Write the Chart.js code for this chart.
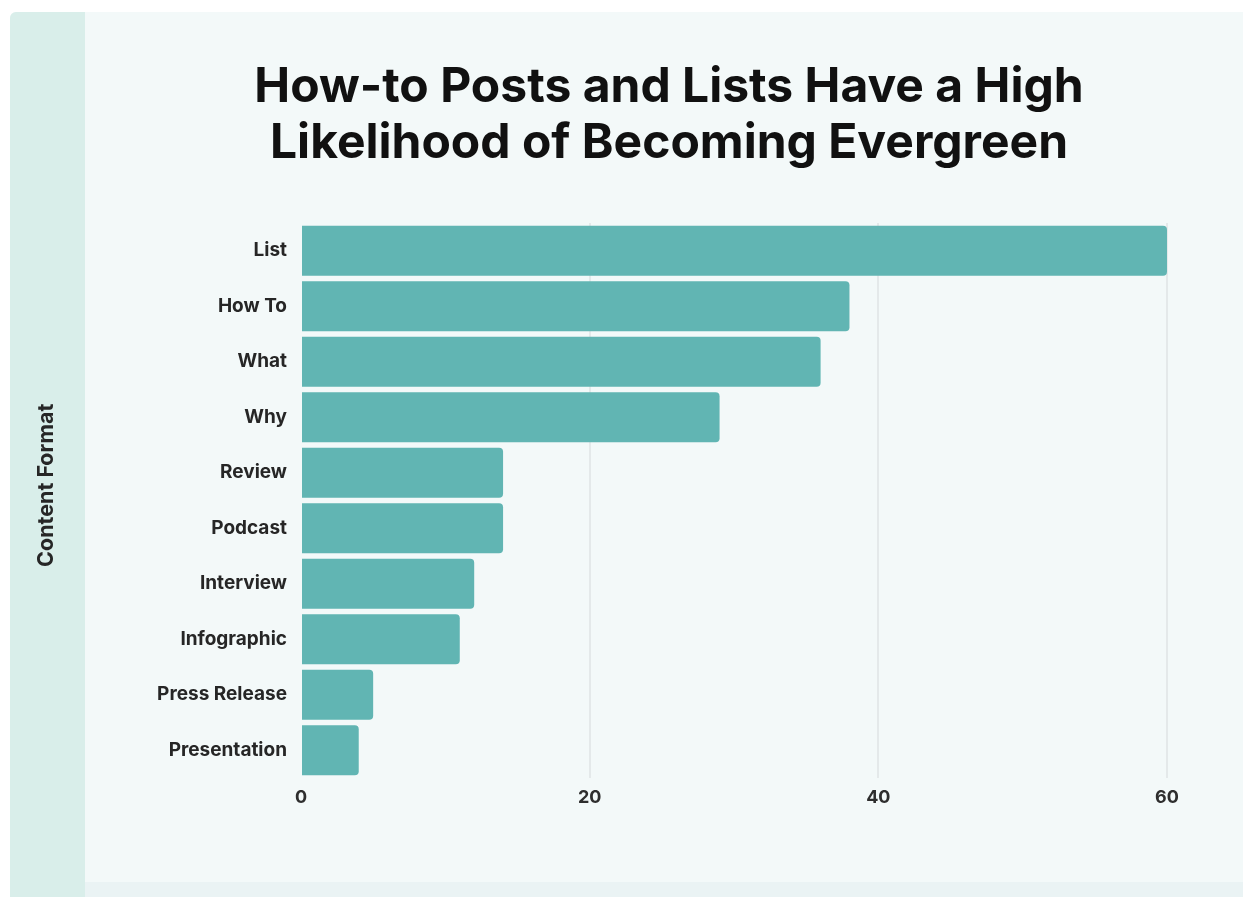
<!DOCTYPE html>
<html>
<head>
<meta charset="utf-8">
<script src="https://cdn.jsdelivr.net/npm/chart.js@4.4.1/dist/chart.umd.min.js"></script>
<style>
  html, body { margin: 0; padding: 0; background: #ffffff; }
  body { width: 1243px; height: 897px; position: relative; overflow: hidden; }
  #panel { position: absolute; left: 10px; top: 12px; width: 1233px; height: 885px; background: #f3f9f9; border-top-left-radius: 6px; overflow: hidden; }
  #strip { position: absolute; left: 0; top: 0; width: 75px; height: 885px; background: #d9eeea; }
  #bottom { position: absolute; left: 75px; top: 870px; width: 1158px; height: 15px; background: #eaf3f4; }
  #c { position: absolute; left: 0; top: 0; }
</style>
</head>
<body>
<div id="panel"><div id="strip"></div><div id="bottom"></div></div>
<canvas id="c" width="1243" height="897"></canvas>
<script>
const categories = ["List", "How To", "What", "Why", "Review", "Podcast", "Interview", "Infographic", "Press Release", "Presentation"];
const values = [60, 38, 36, 29, 14, 14, 12, 11, 5, 4];
const titleLines = ["How-to Posts and Lists Have a High", "Likelihood of Becoming Evergreen"];
const yAxisTitle = "      Content Format";

// centre the (full-width) title block on the panel's content area
const titleCenter = {
  id: 'titleCenter',
  afterLayout(chart) {
    const tb = chart.titleBlock;
    if (tb) {
      const w = tb.right - tb.left;
      tb.left = 669 - w / 2;
      tb.right = 669 + w / 2;
    }
  }
};

new Chart(document.getElementById('c'), {
  type: 'bar',
  data: {
    labels: categories,
    datasets: [{
      data: values,
      backgroundColor: '#61b5b3',
      borderWidth: 0,
      borderRadius: 4,
      barPercentage: 0.9,
      categoryPercentage: 1.0
    }]
  },
  plugins: [titleCenter],
  options: {
    responsive: false,
    devicePixelRatio: 1,
    animation: false,
    indexAxis: 'y',
    layout: { padding: { left: 140, right: 76, top: 0, bottom: 0 } },
    plugins: {
      legend: { display: false },
      tooltip: { enabled: false },
      title: {
        display: true,
        text: titleLines,
        color: '#111111',
        font: { family: 'Inter', size: 48, weight: 'bold', lineHeight: 1.17 },
        padding: { top: 59, bottom: 51.7 }
      }
    },
    scales: {
      x: {
        min: 0, max: 60,
        border: { display: false },
        grid: {
          drawTicks: false,
          lineWidth: 2,
          color: (ctx) => (ctx.tick && ctx.tick.value === 0) ? 'rgba(0,0,0,0)' : '#e4e9ea'
        },
        ticks: {
          stepSize: 20,
          padding: 9,
          color: '#2e2e2e',
          font: { family: 'Inter', size: 18, weight: 'bold' }
        },
        afterFit: (scale) => { scale.height = 119; }
      },
      y: {
        border: { display: false },
        grid: { display: false, drawTicks: false },
        ticks: {
          padding: 14,
          color: '#262626',
          font: { family: 'Inter', size: 19, weight: 'bold' }
        },
        title: {
          display: true,
          text: yAxisTitle,
          color: '#262626',
          font: { family: 'Inter', size: 21.5, weight: 'bold', lineHeight: 1.2 },
          padding: { top: -105.9, bottom: 0 }
        },
        afterFit: (scale) => { scale.width = 161; }
      }
    }
  }
});
</script>
</body>
</html>
